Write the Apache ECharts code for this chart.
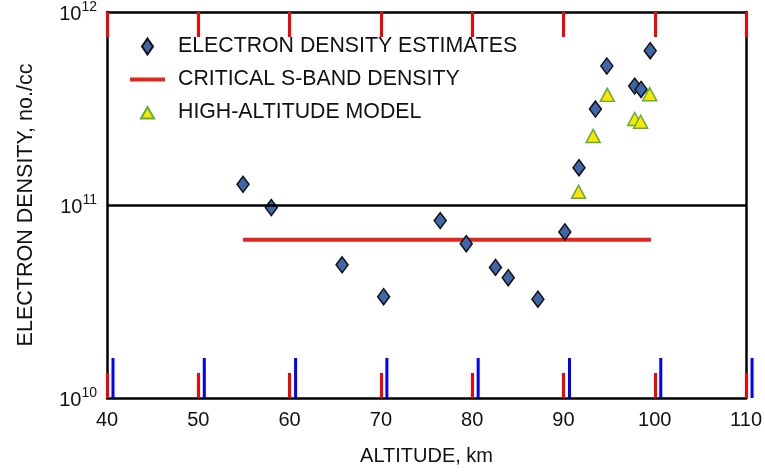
<!DOCTYPE html>
<html><head><meta charset="utf-8">
<script src="https://cdn.jsdelivr.net/npm/echarts@6/dist/echarts.min.js"></script>
<style>html,body{margin:0;padding:0;background:#fff}#c{width:765px;height:472px}</style>
</head><body><div id="c"></div>
<script>
// Electron density estimates (altitude km, density no./cc)
const estimateAltitude = [54.9, 58.0, 65.75, 70.3, 76.5, 79.35, 82.55, 83.95, 87.2, 90.15, 91.7, 93.5, 94.75, 97.8, 98.5, 99.5];
const estimateDensity  = [1.28e11, 9.7e10, 4.9e10, 3.35e10, 8.3e10, 6.3e10, 4.75e10, 4.2e10, 3.25e10, 7.25e10, 1.56e11, 3.14e11, 5.25e11, 4.13e11, 3.97e11, 6.3e11];
// High-altitude model
const modelAltitude = [91.65, 93.25, 94.8, 97.8, 98.45, 99.45];
const modelDensity  = [1.17e11, 2.28e11, 3.72e11, 2.79e11, 2.70e11, 3.75e11];
// Critical S-band density
const criticalAltitude = [54.9, 99.6];
const criticalDensity  = [6.6e10, 6.6e10];
const referenceDensity = 1e11;
const xTicks = [40, 50, 60, 70, 80, 90, 100, 110];
const yTicks = [1e10, 1e11, 1e12];

const FONT = "'Liberation Sans', Arial, Helvetica, sans-serif";
const chart = echarts.init(document.getElementById('c'));
const names = ['ELECTRON DENSITY ESTIMATES', 'CRITICAL S-BAND DENSITY', 'HIGH-ALTITUDE MODEL'];
const TICK_LEN = 11;

chart.setOption({
  animation: false,
  grid: {left: 107, right: 6, top: 11, bottom: 74},
  legend: {
    orient: 'vertical', left: 130, top: 36, padding: 0, itemWidth: 35, itemHeight: 16, itemGap: 12,
    selectedMode: false,
    formatter: n => '{t|' + n + '}',
    textStyle: {fontFamily: FONT, fontSize: 21.3, color: '#111',
      rich: {t: {fontFamily: FONT, fontSize: 21.3, lineHeight: 20, color: '#111', padding: [0, 0, 0, 8]}}},
    data: [
      {name: names[0], icon: 'path://M5.5,0L11,8L5.5,16L0,8Z'},
      {name: names[1], icon: 'path://M0,0L35,0L35,4L0,4Z'},
      {name: names[2], icon: 'path://M0,0M16,16M8,2.5L14.5,14L1.5,14Z'}
    ]
  },
  xAxis: [
    {
      type: 'value', min: xTicks[0], max: xTicks[xTicks.length - 1], interval: 10, position: 'bottom',
      axisLine: {show: true, lineStyle: {color: '#000', width: 2.5}},
      axisTick: {show: true, inside: true, length: 25, lineStyle: {color: '#f00', width: 3}},
      splitLine: {show: false},
      name: 'ALTITUDE, km', nameLocation: 'middle', nameGap: 48,
      nameTextStyle: {fontFamily: FONT, fontSize: 20, color: '#111'},
      axisLabel: {show: true, margin: 12, fontFamily: FONT, fontSize: 20, color: '#111'}
    },
    {
      type: 'value', min: xTicks[0], max: xTicks[xTicks.length - 1], interval: 10, position: 'top',
      axisLine: {show: true, lineStyle: {color: '#000', width: 2.5}},
      axisTick: {show: true, inside: true, length: 25, lineStyle: {color: '#f00', width: 3}},
      splitLine: {show: false}, axisLabel: {show: false}
    }
  ],
  yAxis: [
    {
      type: 'log', min: yTicks[0], max: yTicks[yTicks.length - 1], position: 'left',
      name: 'ELECTRON DENSITY, no./cc', nameLocation: 'middle', nameGap: 70,
      nameTextStyle: {fontFamily: FONT, fontSize: 21.5, color: '#111'},
      axisLine: {show: true, lineStyle: {color: '#000', width: 2.5}},
      axisTick: {show: false}, splitLine: {show: false},
      axisLabel: {
        show: true, margin: 10,
        formatter: v => '{b|10}{s|' + Math.round(Math.log10(v)) + '}',
        rich: {
          b: {fontFamily: FONT, fontSize: 20, color: '#111', lineHeight: 24, verticalAlign: 'bottom'},
          s: {fontFamily: FONT, fontSize: 14, color: '#111', lineHeight: 24, verticalAlign: 'top', padding: [0, 0, 9, 0]}
        }
      }
    },
    {
      type: 'log', min: yTicks[0], max: yTicks[yTicks.length - 1], position: 'right',
      axisLine: {show: true, lineStyle: {color: '#000', width: 2.5}},
      axisTick: {show: false}, splitLine: {show: false}, axisLabel: {show: false}
    }
  ],
  series: [
    {
      name: 'ticks', type: 'custom', z: 10,
      data: xTicks.map(v => [v, yTicks[0]]),
      renderItem: (params, api) => {
        const pb = api.coord([api.value(0), yTicks[0]]);
        return {type: 'line', shape: {x1: pb[0] + 6, y1: pb[1], x2: pb[0] + 6, y2: pb[1] - 40}, style: {stroke: '#00f', lineWidth: 3}};
      }
    },
    {
      name: names[1], type: 'line', z: 1, symbol: 'none',
      lineStyle: {color: '#E3261C', width: 4}, itemStyle: {color: '#E3261C'},
      data: criticalAltitude.map((a, i) => [a, criticalDensity[i]]),
      markLine: {
        silent: true, symbol: 'none', label: {show: false},
        lineStyle: {color: '#000', width: 2.5, type: 'solid'},
        data: [{yAxis: referenceDensity}]
      }
    },
    {
      name: names[0], type: 'scatter', z: 3, symbol: 'diamond', symbolSize: [12, 16],
      itemStyle: {color: '#3F65AB', borderColor: '#111', borderWidth: 1.5, opacity: 1},
      data: estimateAltitude.map((a, i) => [a, estimateDensity[i]])
    },
    {
      name: names[2], type: 'scatter', z: 4, symbol: 'triangle', symbolSize: [14, 13],
      itemStyle: {color: '#FFE500', borderColor: '#5CAF3B', borderWidth: 1.5, opacity: 1},
      data: modelAltitude.map((a, i) => [a, modelDensity[i]])
    }
  ]
});
</script></body></html>
